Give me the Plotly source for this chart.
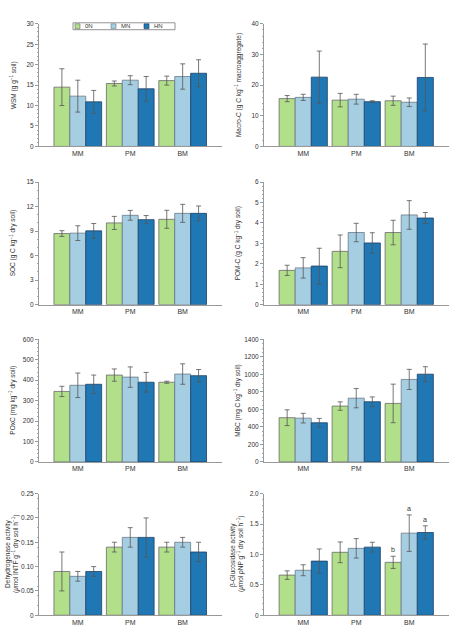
import plotly.graph_objects as go

categories = ["MM", "PM", "BM"]
series_names = ["0N", "MN", "HN"]
colors = ["#b2df8a", "#a6cee3", "#1f78b4"]
line_colors = ["#6a6a6a", "#6a7a88", "#1d3f66"]

wsm = {"0N": [14.5, 15.4, 16.1], "MN": [12.3, 16.2, 17.1], "HN": [10.9, 14.1, 17.9]}
wsm_err = {"0N": [4.5, 0.6, 1.1], "MN": [3.9, 1.1, 3.1], "HN": [2.8, 3.0, 3.3]}

macro = {"0N": [15.6, 15.1, 14.9], "MN": [16.0, 15.4, 14.4], "HN": [22.6, 14.6, 22.5]}
macro_err = {"0N": [1.0, 2.2, 1.5], "MN": [1.0, 1.6, 1.4], "HN": [8.5, 0.3, 10.9]}

soc = {"0N": [8.7, 10.0, 10.44], "MN": [8.75, 10.93, 11.17], "HN": [9.03, 10.4, 11.17]}
soc_err = {"0N": [0.35, 0.8, 1.1], "MN": [0.9, 0.6, 1.1], "HN": [0.9, 0.5, 0.9]}

pomc = {"0N": [1.68, 2.61, 3.53], "MN": [1.8, 3.53, 4.39], "HN": [1.89, 3.02, 4.24]}
pomc_err = {"0N": [0.25, 0.8, 0.6], "MN": [0.5, 0.45, 0.7], "HN": [0.87, 0.5, 0.27]}

poxc = {"0N": [345, 425, 390], "MN": [375, 415, 430], "HN": [380, 390, 422]}
poxc_err = {"0N": [25, 30, 5], "MN": [60, 50, 50], "HN": [45, 48, 30]}

mbc = {"0N": [505, 638, 668], "MN": [500, 728, 942], "HN": [447, 687, 1002]}
mbc_err = {"0N": [90, 48, 220], "MN": [55, 110, 115], "HN": [50, 55, 85]}

dehyd = {"0N": [0.09, 0.14, 0.14], "MN": [0.08, 0.16, 0.15], "HN": [0.09, 0.16, 0.13]}
dehyd_err = {"0N": [0.04, 0.01, 0.01], "MN": [0.01, 0.02, 0.01], "HN": [0.01, 0.04, 0.02]}

gluc = {"0N": [0.66, 1.035, 0.87], "MN": [0.74, 1.1, 1.35], "HN": [0.89, 1.12, 1.36]}
gluc_err = {"0N": [0.07, 0.17, 0.1], "MN": [0.09, 0.16, 0.3], "HN": [0.2, 0.08, 0.11]}

gluc_letters = {"0N": ["", "", "b"], "MN": ["", "", "a"], "HN": ["", "", "a"]}

panels = [
    (wsm, wsm_err, [0, 30], 5, ["WSM (g g<sup>−1</sup> soil)"]),
    (macro, macro_err, [0, 40], 10, ["Macro-C (g C kg<sup>−1</sup> macroaggregate)"]),
    (soc, soc_err, [0, 15], 3, ["SOC (g C kg<sup>−1</sup> dry soil)"]),
    (pomc, pomc_err, [0, 6], 1, ["POM-C (g C kg<sup>−1</sup> dry soil)"]),
    (poxc, poxc_err, [0, 600], 100, ["POxC (mg kg<sup>−1</sup> dry soil)"]),
    (mbc, mbc_err, [0, 1400], 200, ["MBC (mg C kg<sup>−1</sup> dry soil)"]),
    (dehyd, dehyd_err, [0, 0.25], 0.05,
     ["Dehydrogenase activity", "(<i>μ</i>mol INTF g<sup>−1</sup> dry soil h<sup>−1</sup>)"]),
    (gluc, gluc_err, [0, 2.0], 0.5,
     ["β-Glucosidase activity", "(<i>μ</i>mol <i>p</i>NP g<sup>−1</sup> dry soil h<sup>−1</sup>)"]),
]

W, H = 450, 642
col_x = [(39, 222), (264, 449)]
row_y = [(20, 144), (180, 304), (339, 463), (495, 618)]
title_x1 = [13, 238]
title_x2 = [(8.5, 15.5), (233.5, 240.5)]

fig = go.Figure()
layout = dict(
    width=W, height=H, margin=dict(l=0, r=0, t=0, b=0),
    paper_bgcolor="white", plot_bgcolor="white",
    barmode="group", bargap=0.09, bargroupgap=0.0,
    font=dict(family="Liberation Sans, Arial, sans-serif", size=7, color="#333"),
    showlegend=False,
)
annotations = []
shapes = []

for i, (data, err, yr, dt, title) in enumerate(panels):
    r, c = divmod(i, 2)
    idx = i + 1
    xa = "xaxis" if idx == 1 else f"xaxis{idx}"
    ya = "yaxis" if idx == 1 else f"yaxis{idx}"
    xr = "x" if idx == 1 else f"x{idx}"
    yref = "y" if idx == 1 else f"y{idx}"
    x0, x1 = col_x[c]
    y0, y1 = row_y[r]
    for k, s in enumerate(series_names):
        fig.add_trace(go.Bar(
            x=categories, y=data[s], name=s, xaxis=xr, yaxis=yref,
            marker=dict(color=colors[k], line=dict(color=line_colors[k], width=0.8)),
            error_y=dict(type="data", array=err[s], color="#555", thickness=0.8, width=2.5),
            offsetgroup=s,
        ))
    layout[xa] = dict(domain=[x0 / W, x1 / W], anchor=yref, range=[-0.74, 2.75],
                      showline=True, linecolor="#999", linewidth=1, ticks="",
                      tickfont=dict(size=7, color="#333"), showgrid=False, zeroline=False,
                      fixedrange=True)
    tickfmt = ".2f" if dt == 0.05 else (".1f" if dt == 0.5 else "")
    layout[ya] = dict(domain=[1 - y1 / H, 1 - y0 / H], anchor=xr, range=yr,
                      showline=True, linecolor="#999", linewidth=1, ticks="outside",
                      ticklen=3, tickcolor="#999", tick0=0, dtick=dt, tickformat=tickfmt,
                      minor=dict(ticks="outside", ticklen=1.5, tickcolor="#aaa", nticks=5),
                      tickfont=dict(size=6.5, color="#333"), showgrid=False, zeroline=False,
                      fixedrange=True)
    ymid = 1 - (y0 + y1) / 2 / H
    if len(title) == 1:
        xs = [title_x1[c]]
    else:
        xs = list(title_x2[c])
    for t, xp in zip(title, xs):
        annotations.append(dict(
            text=t, x=xp / W, y=ymid, xref="paper", yref="paper",
            textangle=-90, showarrow=False, xanchor="center", yanchor="middle",
            font=dict(size=6.5, color="#333"),
        ))

layout["yaxis7"]["tickvals"] = [0, 0.05, 0.10, 0.15, 0.20, 0.25]
layout["yaxis7"]["ticktext"] = ["0", "0.05", "0.10", "0.15", "0.20", "0.25"]
layout["yaxis8"]["tickvals"] = [0, 0.5, 1.0, 1.5, 2.0]
layout["yaxis8"]["ticktext"] = ["0", "0.5", "1.0", "1.5", "2.0"]

# significance letters on the glucosidase panel
offsets = {"0N": -0.3, "MN": 0.0, "HN": 0.3}
for s in series_names:
    for j, cat in enumerate(categories):
        t = gluc_letters[s][j]
        if t:
            annotations.append(dict(
                text=t, x=j + offsets[s], y=gluc[s][j] + gluc_err[s][j], xref="x8", yref="y8",
                showarrow=False, yanchor="bottom", yshift=1, font=dict(size=7, color="#333"),
            ))

# compact legend box (top-left panel)
leg_box = (73, 19, 175, 26)
shapes.append(dict(type="rect", xref="paper", yref="paper",
                   x0=leg_box[0] / W, x1=leg_box[2] / W,
                   y0=1 - leg_box[3] / H, y1=1 - leg_box[1] / H,
                   line=dict(color="#777", width=0.8), fillcolor="white"))
leg_sq_x = [75, 111, 144]
for k, s in enumerate(series_names):
    sx = leg_sq_x[k]
    shapes.append(dict(type="rect", xref="paper", yref="paper",
                       x0=sx / W, x1=(sx + 5) / W, y0=1 - 25 / H, y1=1 - 20 / H,
                       line=dict(color=line_colors[k], width=0.6), fillcolor=colors[k]))
    annotations.append(dict(text=s, x=(sx + 8) / W, y=1 - 22.5 / H, xref="paper", yref="paper",
                            showarrow=False, xanchor="left", yanchor="middle",
                            font=dict(size=6, color="#333")))

layout["annotations"] = annotations
layout["shapes"] = shapes
fig.update_layout(**layout)
fig.write_html("out.html")
